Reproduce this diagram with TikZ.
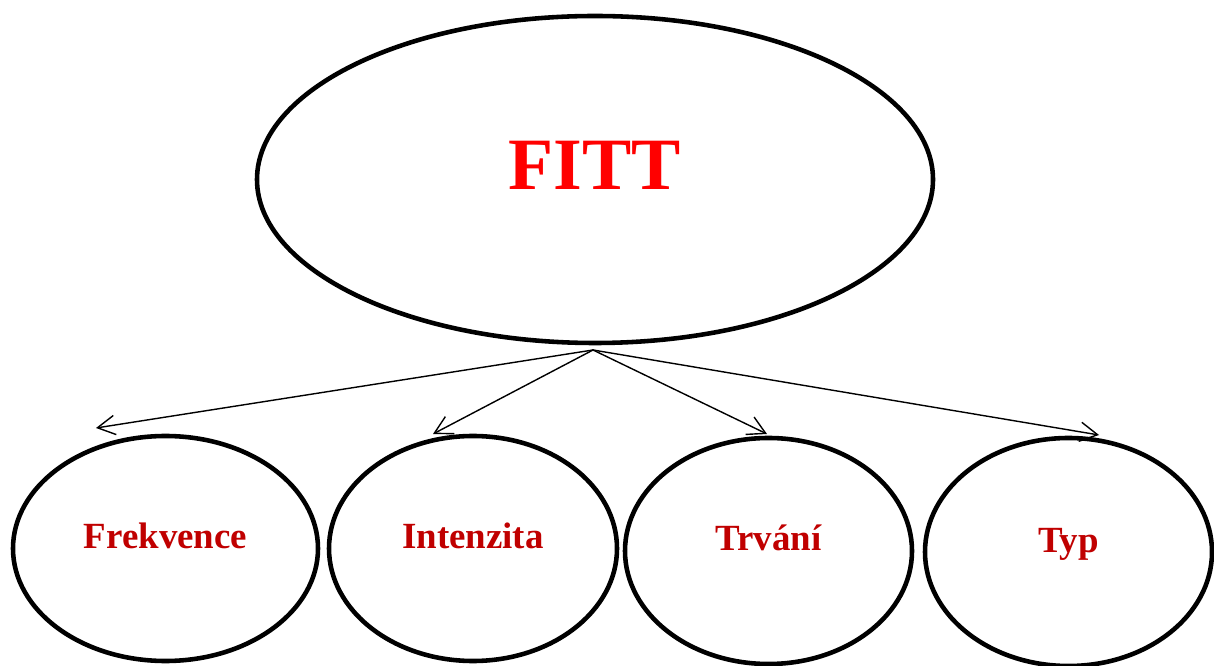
\documentclass[tikz,border=0pt]{standalone}
\usepackage{fontspec}
\setmainfont{Liberation Serif}
\usepackage{xcolor}
\usetikzlibrary{arrows.meta,shapes.geometric}
\definecolor{fittred}{RGB}{255,0,0}
\definecolor{labelred}{RGB}{192,0,0}
\tikzset{
  every picture/.style={line join=round, line cap=round},
  bigoval/.style={ellipse, draw, line width=2.6pt, inner sep=0pt,
    minimum width=13.52cm, minimum height=6.54cm, text height=11.4pt, text depth=0pt,
    font=\fontsize{42}{48}\selectfont\bfseries, text=fittred},
  oval/.style={ellipse, draw, line width=2.6pt, inner sep=0pt,
    minimum height=4.5cm, text height=0pt, text depth=0pt,
    font=\fontsize{21}{25}\selectfont\bfseries, text=labelred},
  link/.style={-{Straight Barb[length=10pt,width=11pt]}, line width=0.8pt},
}

\begin{document}
\begin{tikzpicture}
\useasboundingbox (0,0) rectangle (24.28,-13.32);
\node[bigoval] (fitt) at (11.9,-3.59) {FITT};
\node[oval, minimum width=6.1cm] (freq) at (3.31,-10.97) {Frekvence};
\node[oval, minimum width=5.76cm] (intens) at (9.46,-10.97) {Intenzita};
\node[oval, minimum width=5.74cm, minimum height=4.52cm] (dur) at (15.37,-11.02) {Trvání};
\node[oval, minimum width=5.74cm, minimum height=4.56cm] (kind) at (21.37,-11.04) {Typ};
% arrow hub and tips
\coordinate (hub) at (11.86,-7.0);
\coordinate (freqtip) at (1.92,-8.56);
\coordinate (intenstip) at (8.66,-8.68);
\coordinate (durtip) at (15.34,-8.68);
\coordinate (kindtip) at (21.98,-8.70);
\draw[link] (hub)--(freqtip);
\draw[link] (hub)--(intenstip);
\draw[link] (hub)--(durtip);
\draw[link] (hub)--(kindtip);
\end{tikzpicture}
\end{document}
